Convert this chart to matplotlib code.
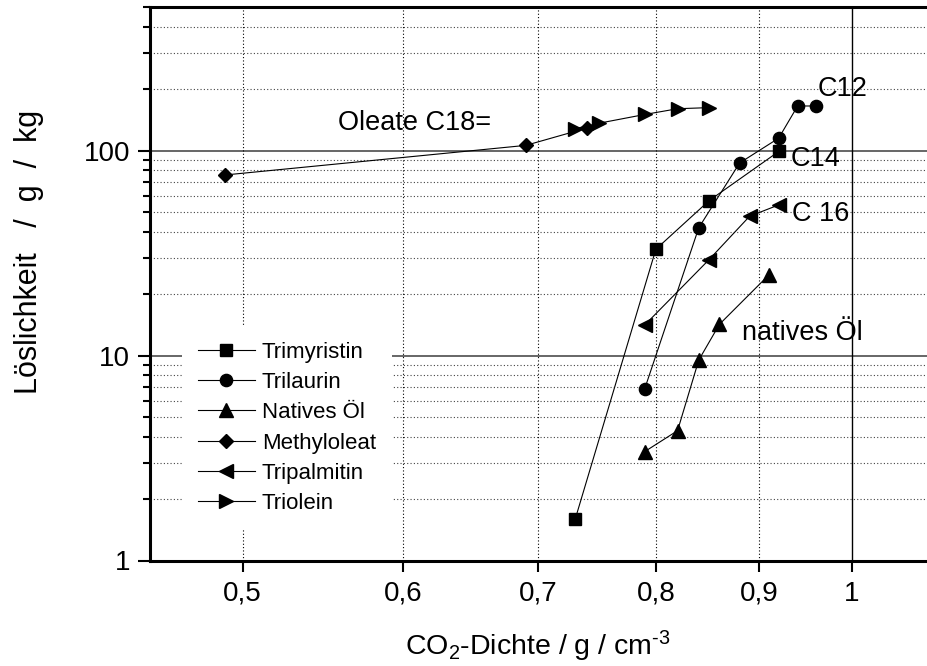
import matplotlib
matplotlib.use("Agg")
import matplotlib.pyplot as plt
from matplotlib.ticker import FixedLocator, FixedFormatter, NullLocator, LogLocator, NullFormatter

plt.rcParams['font.family'] = ['Liberation Sans', 'DejaVu Sans']
plt.rcParams['mathtext.fontset'] = 'custom'
plt.rcParams['mathtext.rm'] = 'Liberation Sans'
plt.rcParams['mathtext.it'] = 'Liberation Sans:italic'
plt.rcParams['mathtext.bf'] = 'Liberation Sans:bold'

# --- data: CO2 density (g/cm^3) vs. solubility (g/kg) ---
trimyristin_x = [0.73, 0.80, 0.85, 0.92]
trimyristin_y = [1.6, 33, 57, 99]

trilaurin_x = [0.79, 0.84, 0.88, 0.92, 0.94, 0.96]
trilaurin_y = [6.9, 42, 87, 115, 165, 165]

natives_x = [0.79, 0.82, 0.84, 0.86, 0.91]
natives_y = [3.4, 4.3, 9.5, 14.2, 24.8]

methyloleat_x = [0.49, 0.69, 0.74]
methyloleat_y = [76, 106, 129]

tripalmitin_x = [0.79, 0.85, 0.89, 0.92]
tripalmitin_y = [14.1, 29.4, 47.8, 54.3]

triolein_x = [0.73, 0.75, 0.79, 0.82, 0.85]
triolein_y = [128, 136, 150, 160, 162]

x_ticks = [0.5, 0.6, 0.7, 0.8, 0.9, 1.0]
x_ticklabels = ['0,5', '0,6', '0,7', '0,8', '0,9', '1']
y_ticks = [1, 10, 100]
y_ticklabels = ['1', '10', '100']

W, H = 927, 666
fig = plt.figure(figsize=(W / 100, H / 100), dpi=100)
ax = fig.add_axes([150 / W, 1 - 560.5 / H, 1 - 150 / W, (560.5 - 7.3) / H])

ax.set_xscale('log')
ax.set_yscale('log')
ax.set_xlim(0.45, 1.089)
ax.set_ylim(1, 500)

# grid
for yv in [2, 3, 4, 5, 6, 7, 8, 9, 20, 30, 40, 50, 60, 70, 80, 90, 200, 300, 400]:
    ax.axhline(yv, color='#444444', lw=0.8, ls=(0, (1, 2)), zorder=0)
for yv in [10, 100]:
    ax.axhline(yv, color='#5a5a5a', lw=1.3, ls='-', zorder=0)
for xv in x_ticks[:-1]:
    ax.axvline(xv, color='black', lw=0.8, ls=(0, (1, 2)), zorder=0)
ax.axvline(x_ticks[-1], color='black', lw=1.0, ls='-', zorder=0)

series = [
    ('Trimyristin', trimyristin_x, trimyristin_y, 's', 8),
    ('Trilaurin', trilaurin_x, trilaurin_y, 'o', 8.8),
    ('Natives Öl', natives_x, natives_y, '^', 10),
    ('Methyloleat', methyloleat_x, methyloleat_y, 'D', 7.5),
    ('Tripalmitin', tripalmitin_x, tripalmitin_y, '<', 10),
    ('Triolein', triolein_x, triolein_y, '>', 10),
]
for name, xs, ys, m, ms in series:
    ax.plot(xs, ys, color='black', lw=0.8, marker=m, markersize=ms,
            markerfacecolor='black', markeredgecolor='black', label=name, zorder=3)

# axes styling
ax.spines['right'].set_visible(False)
for s in ['left', 'bottom', 'top']:
    ax.spines[s].set_linewidth(2.2)

ax.xaxis.set_major_locator(FixedLocator(x_ticks))
ax.xaxis.set_major_formatter(FixedFormatter(x_ticklabels))
ax.xaxis.set_minor_locator(NullLocator())
ax.yaxis.set_major_locator(FixedLocator(y_ticks))
ax.yaxis.set_major_formatter(FixedFormatter(y_ticklabels))
ax.yaxis.set_minor_locator(LogLocator(base=10, subs=range(2, 10)))
ax.yaxis.set_minor_formatter(NullFormatter())

ax.tick_params(axis='x', which='major', direction='out', length=8, width=1.5,
               labelsize=20, pad=6.5, top=False)
ax.tick_params(axis='y', which='major', direction='out', length=8.5, width=1.5,
               labelsize=20, pad=5.8, right=False)
ax.tick_params(axis='y', which='minor', direction='out', length=5, width=1.5, right=False)

# annotations
ax.text(0.962, 184, 'C12', fontsize=19.5, ha='left', va='baseline')
ax.text(0.932, 84.5, 'C14', fontsize=19.5, ha='left', va='baseline')
ax.text(0.934, 45.2, 'C 16', fontsize=19.5, ha='left', va='baseline')
ax.text(0.882, 11.94, 'natives Öl', fontsize=19.5, ha='left', va='baseline')
ax.text(0.557, 125.7, 'Oleate C18=', fontsize=19.5, ha='left', va='baseline')

leg = ax.legend(loc='upper left', bbox_to_anchor=(182 / W, 1 - 326 / H),
                bbox_transform=fig.transFigure, borderaxespad=0,
                fontsize=16, frameon=True, fancybox=False, framealpha=1,
                facecolor='white', edgecolor='none', numpoints=1,
                handlelength=2.6, handletextpad=0.3, labelspacing=0.42,
                borderpad=0.7)
leg.set_zorder(5)

fig.text(29 / W, 1 - 252 / H, 'Löslichkeit   /  g  /  kg', rotation=90,
         fontsize=22, ha='center', va='center')
fig.text(538 / W, 1 - 646 / H, 'CO$_2$-Dichte / g / cm$^{\u2010 3}$',
         fontsize=20.5, ha='center', va='center')

fig.savefig('out.png', dpi=100)
